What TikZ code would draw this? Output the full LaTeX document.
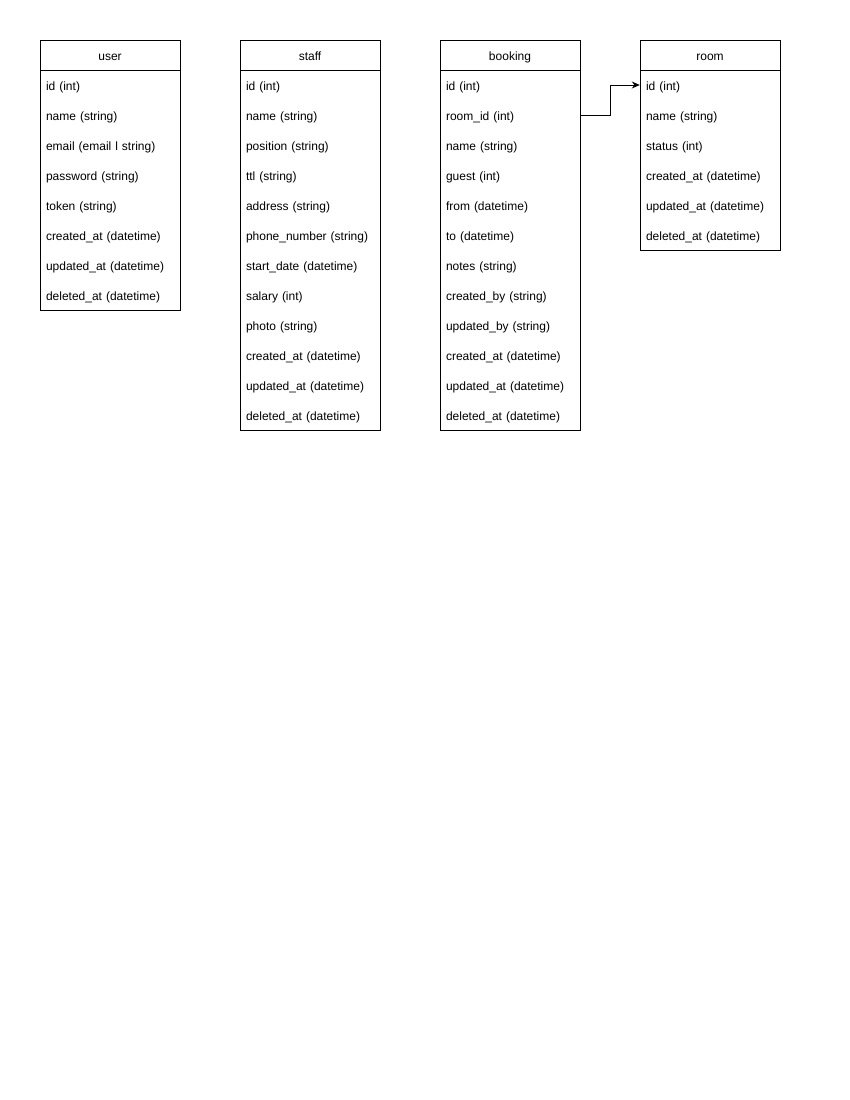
\documentclass[tikz,border=0pt]{standalone}
\usepackage{fontspec}
\setmainfont{Liberation Sans}
\usepackage{tikz}
\usetikzlibrary{arrows.meta}
\tikzstyle{Header}=[minimum width=140pt, minimum height=30pt, inner sep=0pt, text height=10pt, text depth=0pt, fill=white, line width=1pt, draw=black, shape=rectangle, text=black, font=\fontsize{12}{14}\selectfont]
\tikzstyle{Body}=[minimum width=140pt, inner sep=0pt, fill=white, line width=1pt, draw=black, shape=rectangle]
\tikzstyle{Field}=[minimum width=140pt, minimum height=30pt, text width=128pt, inner xsep=6pt, inner ysep=0pt, text height=10pt, text depth=0pt, align=left, shape=rectangle, text=black, font=\fontsize{12}{14}\selectfont]
\tikzstyle{arrow}=[line width=1pt, -{Stealth[length=8pt,width=7pt]}]
\pgfdeclarelayer{tablelayer}
\pgfdeclarelayer{fieldlayer}
\pgfsetlayers{tablelayer, fieldlayer, main}

\begin{document}
\begin{tikzpicture}[x=1pt, y=-1pt]
	\useasboundingbox (0, 0) rectangle (850, 1100);
	\begin{pgfonlayer}{tablelayer}
		\node [style=Header] (user) at (110, 55) {user};
		\node [style=Body, minimum height=240pt] (user_body) at (110, 190) {};
		\node [style=Header] (staff) at (310, 55) {staff};
		\node [style=Body, minimum height=360pt] (staff_body) at (310, 250) {};
		\node [style=Header] (booking) at (510, 55) {booking};
		\node [style=Body, minimum height=360pt] (booking_body) at (510, 250) {};
		\node [style=Header] (room) at (710, 55) {room};
		\node [style=Body, minimum height=180pt] (room_body) at (710, 160) {};
	\end{pgfonlayer}
	\begin{pgfonlayer}{fieldlayer}
		% user
		\node [style=Field] (user_id) at (110, 85) {id (int)};
		\node [style=Field] (user_name) at (110, 115) {name (string)};
		\node [style=Field] (user_email) at (110, 145) {email (email l string)};
		\node [style=Field] (user_password) at (110, 175) {password (string)};
		\node [style=Field] (user_token) at (110, 205) {token (string)};
		\node [style=Field] (user_created) at (110, 235) {created\_at (datetime)};
		\node [style=Field] (user_updated) at (110, 265) {updated\_at (datetime)};
		\node [style=Field] (user_deleted) at (110, 295) {deleted\_at (datetime)};
		% staff
		\node [style=Field] (staff_id) at (310, 85) {id (int)};
		\node [style=Field] (staff_name) at (310, 115) {name (string)};
		\node [style=Field] (staff_position) at (310, 145) {position (string)};
		\node [style=Field] (staff_ttl) at (310, 175) {ttl (string)};
		\node [style=Field] (staff_address) at (310, 205) {address (string)};
		\node [style=Field] (staff_phone) at (310, 235) {phone\_number (string)};
		\node [style=Field] (staff_start) at (310, 265) {start\_date (datetime)};
		\node [style=Field] (staff_salary) at (310, 295) {salary (int)};
		\node [style=Field] (staff_photo) at (310, 325) {photo (string)};
		\node [style=Field] (staff_created) at (310, 355) {created\_at (datetime)};
		\node [style=Field] (staff_updated) at (310, 385) {updated\_at (datetime)};
		\node [style=Field] (staff_deleted) at (310, 415) {deleted\_at (datetime)};
		% booking
		\node [style=Field] (booking_id) at (510, 85) {id (int)};
		\node [style=Field] (booking_room_id) at (510, 115) {room\_id (int)};
		\node [style=Field] (booking_name) at (510, 145) {name (string)};
		\node [style=Field] (booking_guest) at (510, 175) {guest (int)};
		\node [style=Field] (booking_from) at (510, 205) {from (datetime)};
		\node [style=Field] (booking_to) at (510, 235) {to (datetime)};
		\node [style=Field] (booking_notes) at (510, 265) {notes (string)};
		\node [style=Field] (booking_created_by) at (510, 295) {created\_by (string)};
		\node [style=Field] (booking_updated_by) at (510, 325) {updated\_by (string)};
		\node [style=Field] (booking_created) at (510, 355) {created\_at (datetime)};
		\node [style=Field] (booking_updated) at (510, 385) {updated\_at (datetime)};
		\node [style=Field] (booking_deleted) at (510, 415) {deleted\_at (datetime)};
		% room
		\node [style=Field] (room_id) at (710, 85) {id (int)};
		\node [style=Field] (room_name) at (710, 115) {name (string)};
		\node [style=Field] (room_status) at (710, 145) {status (int)};
		\node [style=Field] (room_created) at (710, 175) {created\_at (datetime)};
		\node [style=Field] (room_updated) at (710, 205) {updated\_at (datetime)};
		\node [style=Field] (room_deleted) at (710, 235) {deleted\_at (datetime)};
	\end{pgfonlayer}
	% booking -> room
	\draw [style=arrow] (booking_room_id.east) -- ++(30, 0) |- (room_id.west);
\end{tikzpicture}
\end{document}
